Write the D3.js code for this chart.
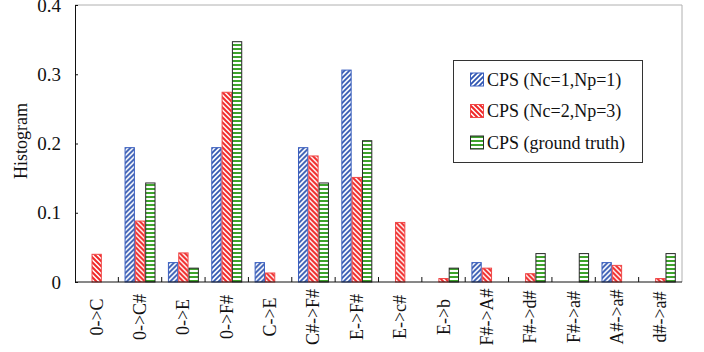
<!DOCTYPE html>
<html>
<head>
<meta charset="utf-8">
<script src="https://cdn.jsdelivr.net/npm/d3@7"></script>
<style>
  html, body { margin: 0; padding: 0; background: #fff; }
  svg { display: block; }
  text { font-family: "Liberation Serif", "Times New Roman", serif; fill: #111; }
</style>
</head>
<body>
<div id="chart"></div>
<script>
// Transition categories (chord progressions)
const categories = ["0->C", "0->C#", "0->E", "0->F#", "C->E", "C#->F#", "E->F#",
                    "E->c#", "E->b", "F#->A#", "F#->d#", "F#->a#", "A#->a#", "d#->a#"];

// Series names as shown in the legend
const seriesNames = ["CPS (Nc=1,Np=1)", "CPS (Nc=2,Np=3)", "CPS (ground truth)"];

// Histogram values per series
const cpsNc1Np1 = [0, 0.194, 0.028, 0.194, 0.028, 0.194, 0.306, 0, 0, 0.028, 0, 0, 0.028, 0];
const cpsNc2Np3 = [0.040, 0.088, 0.042, 0.274, 0.013, 0.182, 0.151, 0.086, 0.005, 0.020, 0.012, 0, 0.024, 0.005];
const cpsTruth  = [0, 0.143, 0.020, 0.347, 0, 0.143, 0.204, 0, 0.020, 0, 0.041, 0.041, 0, 0.041];

const yTicks = [0, 0.1, 0.2, 0.3, 0.4];

const seriesValues = [cpsNc1Np1, cpsNc2Np3, cpsTruth];

const W = 704, H = 352;
const plot = { left: 75, right: 682, top: 5, bottom: 282 };

const svg = d3.select("#chart").append("svg")
  .attr("width", W).attr("height", H);

// Hatch patterns for each series
const defs = svg.append("defs");
const colors = ["#2f55b0", "#f02828", "#3ea32c"];
const strokes = ["#3a5fbf", "#f04848", "#2a2a2a"];

const pBlue = defs.append("pattern").attr("id", "hatch0")
  .attr("patternUnits", "userSpaceOnUse").attr("width", 5).attr("height", 5);
pBlue.append("rect").attr("width", 5).attr("height", 5).attr("fill", "#fff");
pBlue.append("path").attr("d", "M-1,1 l2,-2 M0,5 l5,-5 M4,6 l2,-2")
  .attr("stroke", colors[0]).attr("stroke-width", 1.8);

const pRed = defs.append("pattern").attr("id", "hatch1")
  .attr("patternUnits", "userSpaceOnUse").attr("width", 5).attr("height", 5);
pRed.append("rect").attr("width", 5).attr("height", 5).attr("fill", "#fff");
pRed.append("path").attr("d", "M-1,4 l2,2 M0,0 l5,5 M4,-1 l2,2")
  .attr("stroke", colors[1]).attr("stroke-width", 2);

const pGreen = defs.append("pattern").attr("id", "hatch2")
  .attr("patternUnits", "userSpaceOnUse").attr("width", 4).attr("height", 4);
pGreen.append("rect").attr("width", 4).attr("height", 4).attr("fill", "#fff");
pGreen.append("rect").attr("y", 0).attr("width", 4).attr("height", 2).attr("fill", colors[2]);

// Scales
const x0 = d3.scaleBand().domain(categories).range([plot.left, plot.right]).padding(0);
const bw = x0.bandwidth();
const x1 = d3.scaleBand().domain(d3.range(seriesNames.length))
  .range([bw * 0.143, bw * 0.857]).padding(0);
const y = d3.scaleLinear().domain([0, 0.4]).range([plot.bottom, plot.top]);

// Frame: top and right edges in light grey
svg.append("line").attr("x1", plot.left).attr("x2", plot.right)
  .attr("y1", plot.top).attr("y2", plot.top).attr("stroke", "#b0b0b0").attr("stroke-width", 1);
svg.append("line").attr("x1", plot.right).attr("x2", plot.right)
  .attr("y1", plot.top).attr("y2", plot.bottom).attr("stroke", "#b0b0b0").attr("stroke-width", 1);

// Bars
const groups = svg.append("g").selectAll("g")
  .data(categories).join("g")
  .attr("transform", d => `translate(${x0(d)},0)`);

groups.selectAll("rect")
  .data((d, i) => seriesValues.map((vals, s) => ({ s, v: vals[i] })).filter(e => e.v > 0))
  .join("rect")
  .attr("x", d => x1(d.s) + 0.5)
  .attr("width", x1.bandwidth() - 1)
  .attr("y", d => y(d.v))
  .attr("height", d => y(0) - y(d.v))
  .attr("fill", d => `url(#hatch${d.s})`)
  .attr("stroke", d => strokes[d.s])
  .attr("stroke-width", 1);

// Y axis
const yAxis = d3.axisLeft(y).tickValues(yTicks)
  .tickFormat(d => d === 0 ? "0" : d3.format(".1f")(d))
  .tickSize(-3).tickPadding(14);
const gy = svg.append("g").attr("transform", `translate(${plot.left},0)`).call(yAxis);
gy.select(".domain").attr("stroke", "#111");
gy.selectAll(".tick line").attr("stroke", "#111");
gy.selectAll("text").attr("font-size", 19).attr("font-family", "Liberation Serif, serif").attr("fill", "#111");

// X axis with ticks at category boundaries
svg.append("line").attr("x1", plot.left).attr("x2", plot.right)
  .attr("y1", plot.bottom).attr("y2", plot.bottom).attr("stroke", "#111");
svg.append("g").selectAll("line")
  .data(categories.slice(1)).join("line")
  .attr("x1", d => x0(d)).attr("x2", d => x0(d))
  .attr("y1", plot.bottom).attr("y2", plot.bottom - 5)
  .attr("stroke", "#111");

svg.append("g").selectAll("text")
  .data(categories).join("text")
  .attr("transform", d => `translate(${x0(d) + bw / 2},317) rotate(-90)`)
  .attr("text-anchor", "middle")
  .attr("dominant-baseline", "central")
  .attr("font-size", 18)
  .text(d => d);

// Y axis title
svg.append("text")
  .attr("transform", "translate(21,141) rotate(-90)")
  .attr("text-anchor", "middle")
  .attr("dominant-baseline", "central")
  .attr("font-size", 18)
  .text("Histogram");

// Legend
const legend = svg.append("g");
legend.append("rect")
  .attr("x", 453.5).attr("y", 60.5).attr("width", 189).attr("height", 102)
  .attr("fill", "#fff").attr("stroke", "#333").attr("stroke-width", 1);
const rowsY = [79.5, 111, 142.5];
seriesNames.forEach((name, i) => {
  legend.append("rect")
    .attr("x", 470.5).attr("y", rowsY[i] - 6.5).attr("width", 13).attr("height", 13)
    .attr("fill", `url(#hatch${i})`).attr("stroke", strokes[i]);
  legend.append("text")
    .attr("x", 487).attr("y", rowsY[i])
    .attr("dominant-baseline", "central")
    .attr("font-size", 18)
    .text(name);
});
</script>
</body>
</html>
